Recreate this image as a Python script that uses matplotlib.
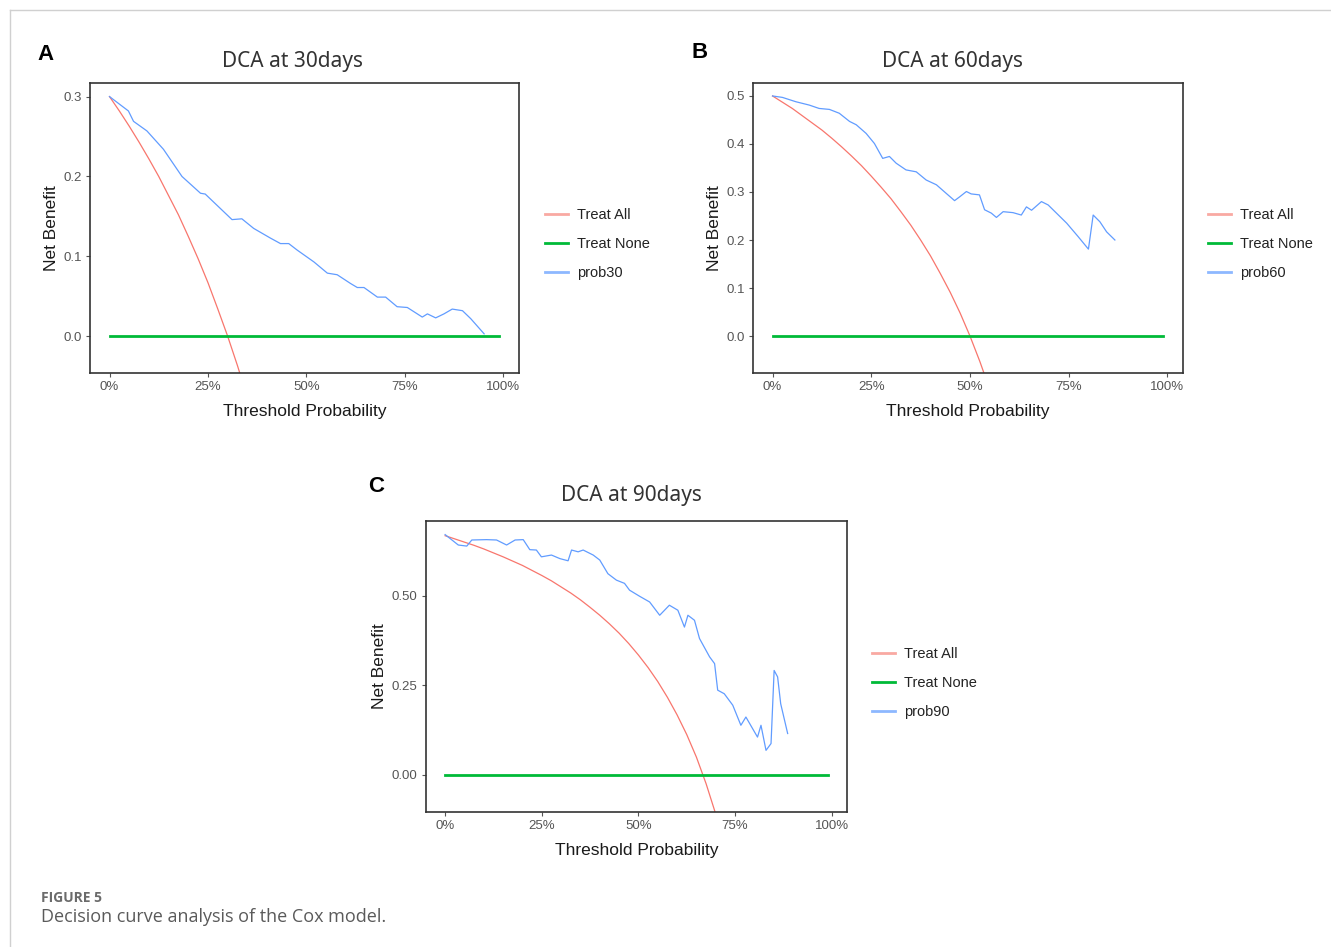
import matplotlib
matplotlib.use("Agg")
import matplotlib.pyplot as plt
from matplotlib.lines import Line2D
import numpy as np

# ---------------- data ----------------
x_ticks = [0.0, 0.25, 0.5, 0.75, 1.0]
x_tick_labels = ["0%", "25%", "50%", "75%", "100%"]

none_x = [0.0, 0.99]
none_y = [0.0, 0.0]

all_x = [0.0, 0.025, 0.05, 0.075, 0.10, 0.125, 0.15, 0.175, 0.20, 0.225, 0.25,
         0.275, 0.30, 0.325, 0.35, 0.375, 0.40, 0.425, 0.45, 0.475, 0.50, 0.525,
         0.55, 0.575, 0.60, 0.625, 0.65, 0.675, 0.70]

# Panel A (30 days)
all30_y = [0.300, 0.282, 0.263, 0.243, 0.222, 0.200, 0.176, 0.152, 0.125, 0.097,
           0.067, 0.034, 0.000, -0.037, -0.077]
prob30_x = [0.0, 0.048, 0.061, 0.095, 0.137, 0.184, 0.231, 0.243, 0.311, 0.336,
            0.366, 0.408, 0.434, 0.455, 0.476, 0.519, 0.553, 0.578, 0.612, 0.629,
            0.646, 0.680, 0.701, 0.730, 0.756, 0.794, 0.807, 0.828, 0.849, 0.870,
            0.896, 0.917, 0.951]
prob30_y = [0.300, 0.282, 0.269, 0.257, 0.234, 0.200, 0.179, 0.178, 0.146, 0.147,
            0.135, 0.123, 0.116, 0.116, 0.108, 0.093, 0.079, 0.077, 0.066, 0.061,
            0.061, 0.049, 0.049, 0.037, 0.036, 0.024, 0.028, 0.023, 0.028, 0.034,
            0.032, 0.022, 0.003]

# Panel B (60 days)
all60_y = [0.500, 0.487, 0.474, 0.459, 0.444, 0.429, 0.412, 0.394, 0.375, 0.355,
           0.333, 0.310, 0.286, 0.259, 0.231, 0.200, 0.167, 0.130, 0.091, 0.048,
           0.000, -0.053, -0.111]
prob60_x = [0.0, 0.025, 0.059, 0.093, 0.118, 0.144, 0.169, 0.195, 0.212, 0.237,
            0.258, 0.279, 0.296, 0.313, 0.338, 0.364, 0.389, 0.415, 0.440, 0.461,
            0.474, 0.491, 0.503, 0.524, 0.537, 0.554, 0.567, 0.584, 0.609, 0.630,
            0.643, 0.656, 0.681, 0.698, 0.719, 0.745, 0.774, 0.800, 0.812, 0.829,
            0.846, 0.867]
prob60_y = [0.500, 0.497, 0.488, 0.481, 0.474, 0.472, 0.464, 0.447, 0.440, 0.422,
            0.401, 0.370, 0.374, 0.360, 0.346, 0.342, 0.325, 0.315, 0.297, 0.282,
            0.290, 0.301, 0.296, 0.294, 0.263, 0.256, 0.247, 0.259, 0.257, 0.252,
            0.269, 0.262, 0.280, 0.273, 0.256, 0.235, 0.207, 0.181, 0.252, 0.238,
            0.217, 0.200]

# Panel C (90 days)
all90_y = [0.667, 0.658, 0.649, 0.640, 0.630, 0.619, 0.608, 0.596, 0.584, 0.570,
           0.556, 0.541, 0.524, 0.507, 0.488, 0.467, 0.445, 0.421, 0.395, 0.366,
           0.334, 0.299, 0.260, 0.216, 0.167, 0.112, 0.049, -0.025, -0.110]
prob90_x = [0.0, 0.013, 0.034, 0.056, 0.069, 0.107, 0.133, 0.159, 0.181, 0.202,
            0.219, 0.236, 0.249, 0.275, 0.297, 0.318, 0.327, 0.344, 0.357, 0.383,
            0.400, 0.421, 0.443, 0.464, 0.477, 0.503, 0.529, 0.555, 0.580, 0.602,
            0.619, 0.628, 0.645, 0.658, 0.684, 0.697, 0.705, 0.722, 0.744, 0.765,
            0.778, 0.808, 0.817, 0.830, 0.843, 0.851, 0.860, 0.868, 0.886]
prob90_y = [0.670, 0.659, 0.641, 0.638, 0.655, 0.656, 0.655, 0.641, 0.655, 0.656,
            0.628, 0.627, 0.608, 0.613, 0.603, 0.597, 0.627, 0.622, 0.627, 0.613,
            0.599, 0.561, 0.543, 0.534, 0.515, 0.498, 0.482, 0.445, 0.473, 0.459,
            0.412, 0.445, 0.431, 0.380, 0.329, 0.310, 0.236, 0.226, 0.194, 0.138,
            0.161, 0.105, 0.138, 0.068, 0.087, 0.291, 0.273, 0.198, 0.115]

panels = [
    dict(letter="A", title="DCA at 30days", model="prob30",
         all_y=all30_y, px=prob30_x, py=prob30_y,
         yticks=[0.0, 0.1, 0.2, 0.3], ylabels=["0.0", "0.1", "0.2", "0.3"],
         ylim=(-0.046, 0.317), yoff=31,
         box=(90, 83, 519, 373), leg=(545, 244), let=(45, 55), tit=(292, 62)),
    dict(letter="B", title="DCA at 60days", model="prob60",
         all_y=all60_y, px=prob60_x, py=prob60_y,
         yticks=[0.0, 0.1, 0.2, 0.3, 0.4, 0.5],
         ylabels=["0.0", "0.1", "0.2", "0.3", "0.4", "0.5"],
         ylim=(-0.077, 0.527), yoff=31,
         box=(753, 83, 1183, 373), leg=(1208, 244), let=(700, 53), tit=(953, 61)),
    dict(letter="C", title="DCA at 90days", model="prob90",
         all_y=all90_y, px=prob90_x, py=prob90_y,
         yticks=[0.0, 0.25, 0.5], ylabels=["0.00", "0.25", "0.50"],
         ylim=(-0.104, 0.708), yoff=39,
         box=(426, 521, 847, 812), leg=(872, 683), let=(376, 486), tit=(631, 495)),
]

# ---------------- style ----------------
W, H = 1331, 947
RED = "#F8766D"
GREEN = "#00BA38"
BLUE = "#619CFF"
NARROW = ["Liberation Sans", "DejaVu Sans"]

fig = plt.figure(figsize=(W / 100, H / 100), dpi=100)
fig.patch.set_facecolor("white")


def fx(px):
    return px / W


def fy(py):
    return 1 - py / H


for p in panels:
    l, t, r, b = p["box"]
    ax = fig.add_axes([fx(l), fy(b), (r - l) / W, (b - t) / H])
    n = len(p["all_y"])
    ax.plot(all_x[:n], p["all_y"], color=RED, lw=0.9, label="Treat All")
    ax.plot(none_x, none_y, color=GREEN, lw=2.0, label="Treat None")
    ax.plot(p["px"], p["py"], color=BLUE, lw=0.9, label=p["model"])
    ax.set_xlim(-0.0495, 1.0395)
    ax.set_ylim(*p["ylim"])
    ax.set_xticks(x_ticks)
    ax.set_xticklabels(x_tick_labels)
    ax.set_yticks(p["yticks"])
    ax.set_yticklabels(p["ylabels"])
    for s in ax.spines.values():
        s.set_color("#333333")
        s.set_linewidth(1.2)
    ax.tick_params(direction="out", length=3, width=0.8, color="#555555",
                   labelcolor="#555555", labelsize=9.5, pad=3)
    for lab in ax.get_xticklabels() + ax.get_yticklabels():
        lab.set_family(NARROW)
    ax.set_xlabel("Threshold Probability", family=NARROW, fontsize=12.5,
                  color="#1a1a1a")
    ax.set_ylabel("Net Benefit", family=NARROW, fontsize=12.5, color="#1a1a1a")
    ax.xaxis.set_label_coords(0.5, -31.0 / (b - t))
    ax.yaxis.set_label_coords(-float(p["yoff"]) / (r - l), 0.5)

    leg = ax.legend(loc="center left",
                    bbox_to_anchor=(fx(p["leg"][0]), fy(p["leg"][1])),
                    bbox_transform=fig.transFigure, frameon=False,
                    handlelength=1.6, handletextpad=0.6, labelspacing=1.05,
                    borderpad=0, borderaxespad=0,
                    prop=dict(family=NARROW, size=10.5))
    for h, c in zip(leg.get_lines(), ["#F9A9A2", GREEN, "#8DB8FF"]):
        h.set_linewidth(2.0)
        h.set_color(c)
    for txt in leg.get_texts():
        txt.set_color("#222222")

    fig.text(fx(p["tit"][0]), fy(p["tit"][1]), p["title"], ha="center",
             va="center", fontsize=15, family="Noto Sans", color="#333333")
    fig.text(fx(p["let"][0]), fy(p["let"][1]), p["letter"], ha="center",
             va="center", fontsize=16, fontweight="bold", family="Liberation Sans",
             color="#000000")

# caption
fig.text(fx(41), fy(898), "FIGURE 5", ha="left", va="center", fontsize=10,
         fontweight="bold", family="Open Sans", color="#6b6b6b")
fig.text(fx(41), fy(917), "Decision curve analysis of the Cox model.", ha="left",
         va="center", fontsize=13, family="Open Sans", color="#5a5a5a")

# page border lines
fig.add_artist(Line2D([fx(10), 1.0], [fy(10), fy(10)], color="#d0d0d0", lw=1.0))
fig.add_artist(Line2D([fx(10), fx(10)], [fy(10), 0.0], color="#d0d0d0", lw=1.0))

fig.savefig("out.png", dpi=100, facecolor="white")
